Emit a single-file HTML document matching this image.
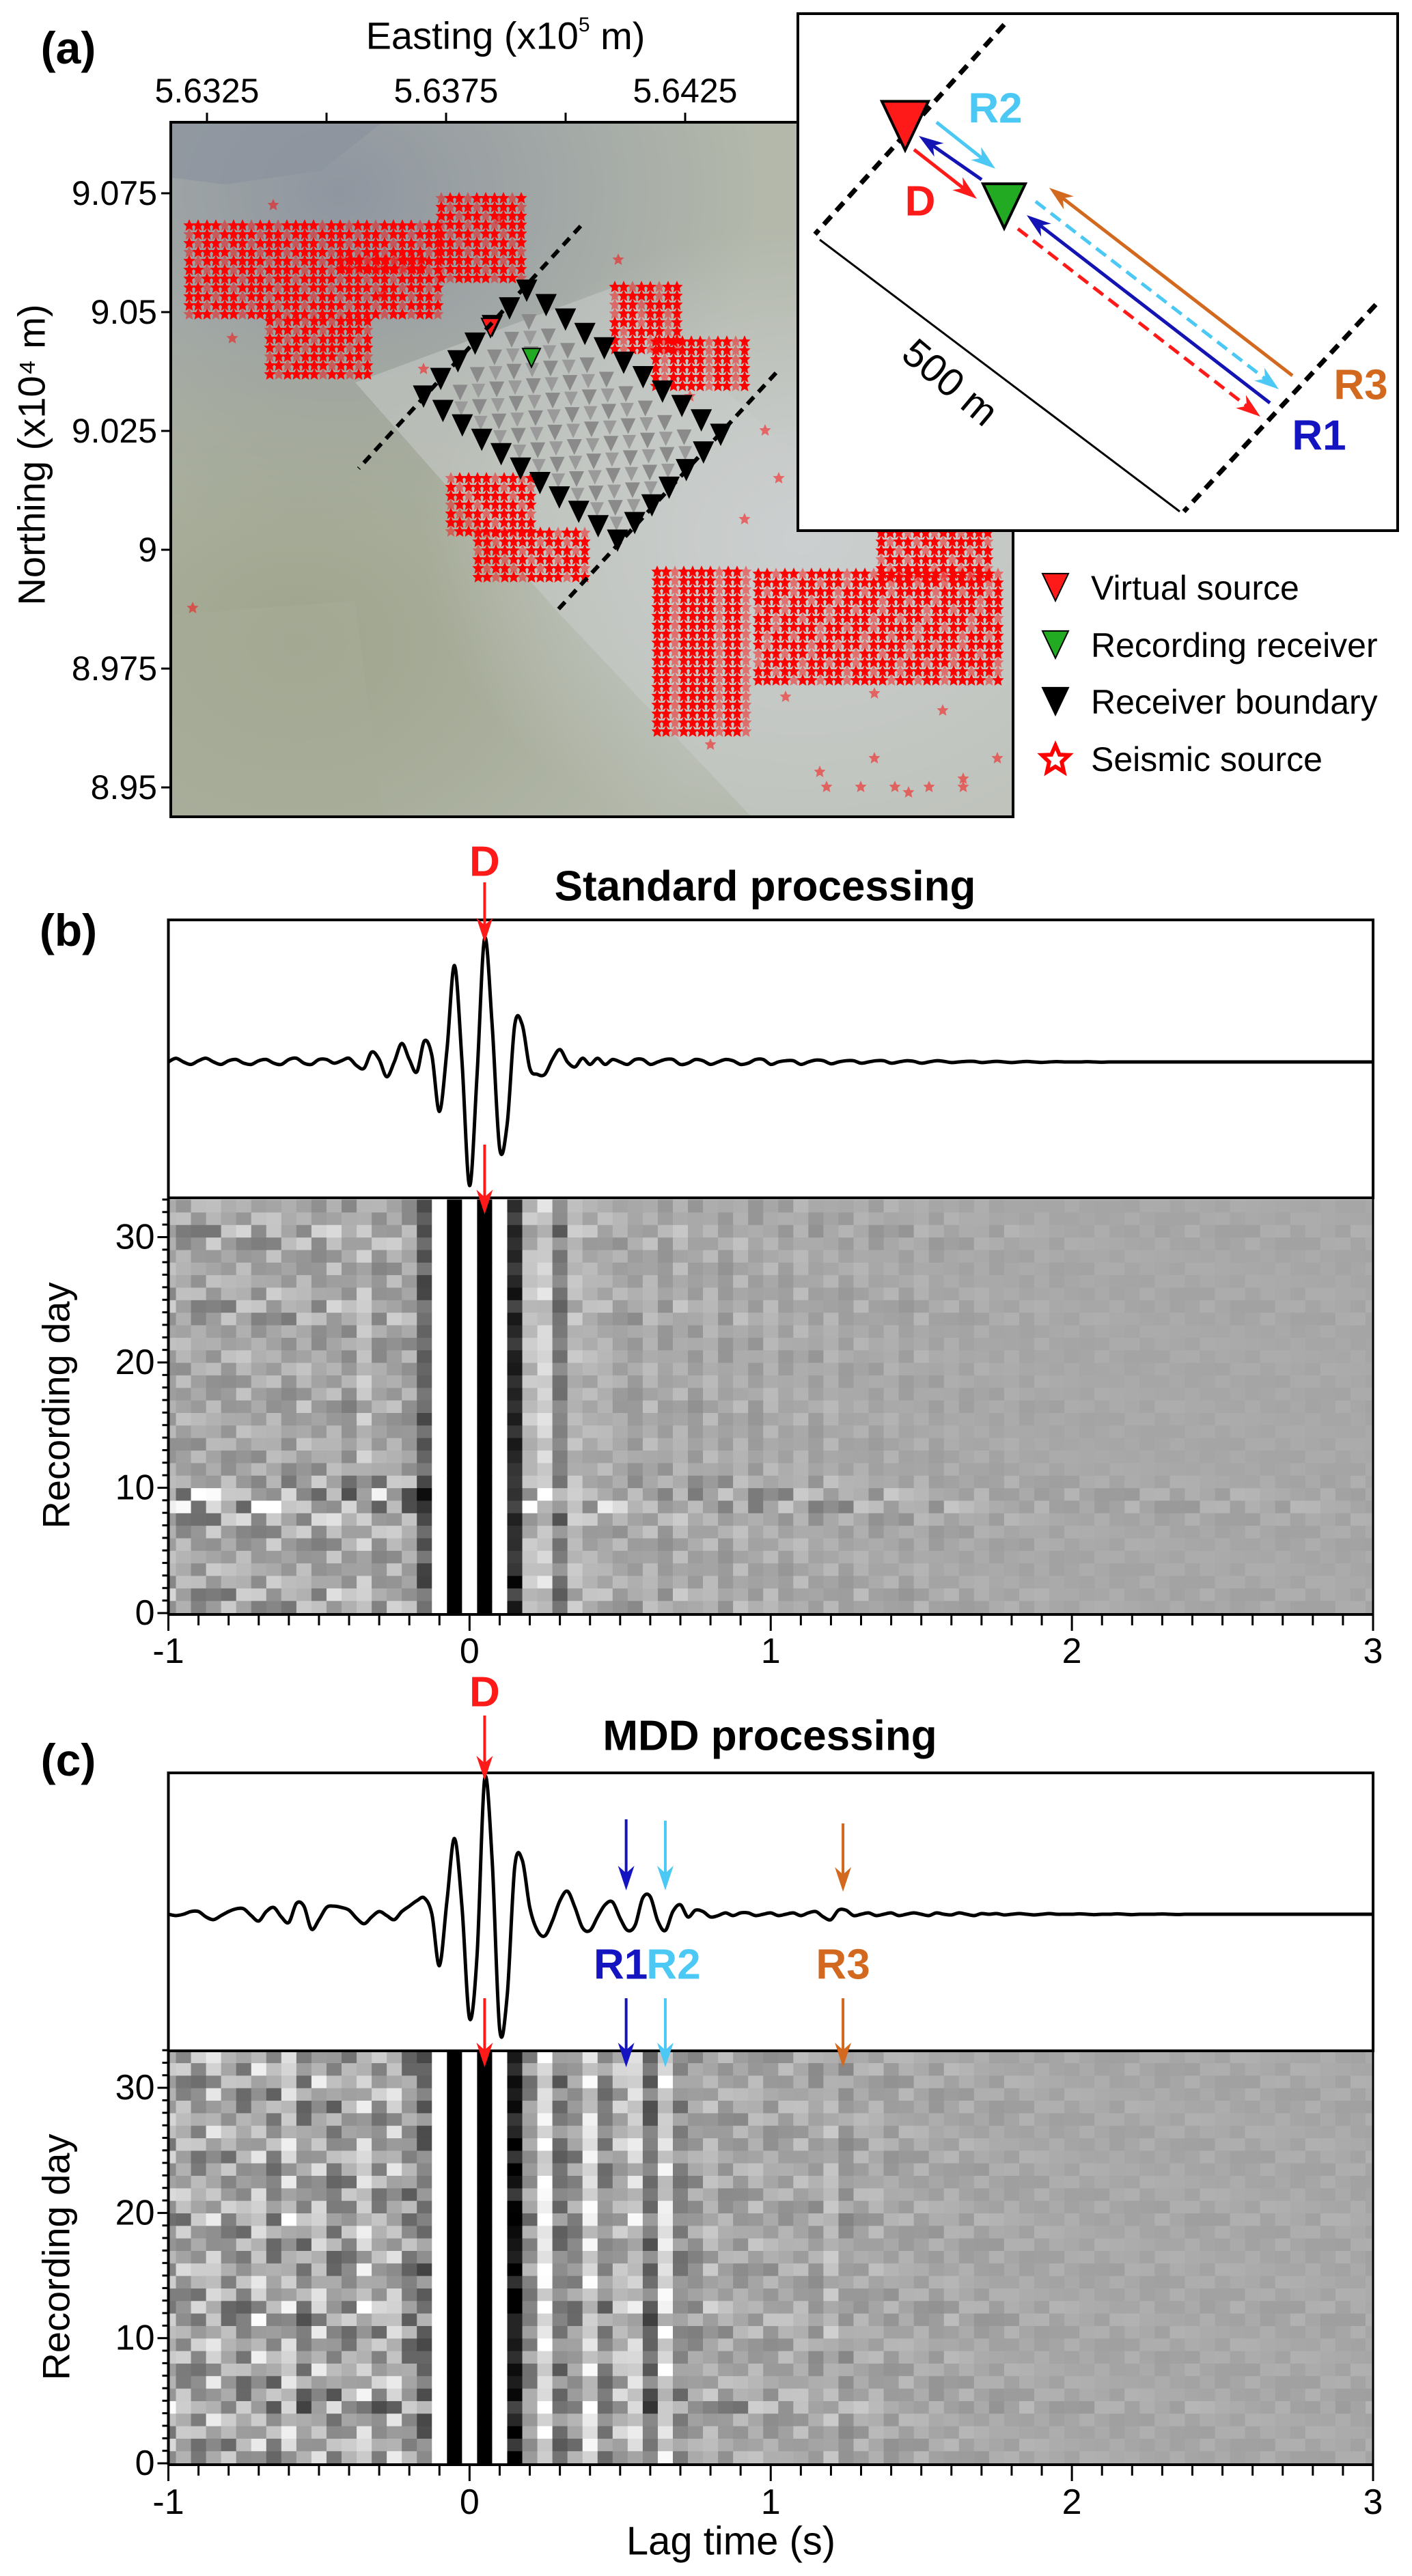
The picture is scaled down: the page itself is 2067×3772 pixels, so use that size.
<!DOCTYPE html>
<html><head><meta charset="utf-8"><style>
html,body{margin:0;padding:0;background:#fff}
svg{display:block}
text{font-family:"Liberation Sans Narrow","Liberation Sans",sans-serif}
</style></head><body>
<svg id="fig" width="2067" height="3772" viewBox="0 0 2067 3772" xmlns="http://www.w3.org/2000/svg">
<defs>
<radialGradient id="g1" cx="0.2" cy="0.1" r="0.5"><stop offset="0" stop-color="#8f96a0"/><stop offset="1" stop-color="#8f96a0" stop-opacity="0"/></radialGradient>
<radialGradient id="g2" cx="0.15" cy="0.75" r="0.5"><stop offset="0" stop-color="#9ea48c"/><stop offset="1" stop-color="#9ea48c" stop-opacity="0"/></radialGradient>
<radialGradient id="g3" cx="0.75" cy="0.6" r="0.45"><stop offset="0" stop-color="#cfd3d6"/><stop offset="1" stop-color="#cfd3d6" stop-opacity="0"/></radialGradient>
<path id="star" d="M0,-9 L2.6,-3 L8.6,-2.8 L4,1.6 L5.4,8 L0,4.6 L-5.4,8 L-4,1.6 L-8.6,-2.8 L-2.6,-3Z"/>
</defs>
</svg>
<script>
// ---------------- chart data ----------------
const tStart = -1, tStep = 0.025;
const traceStd = [0,0.03,0,-0.02,0.01,0.03,0,-0.02,0.01,0.02,-0.01,-0.02,0.01,0.02,-0.01,-0.02,0.02,0.03,-0.01,-0.02,0.02,0.02,-0.01,0.01,
0.03,-0.03,-0.05,0.08,0.02,-0.12,0,0.15,0.02,-0.08,0.17,0.05,-0.40,0.1,0.78,0.0,-1.0,-0.1,1.0,0.3,-0.7,-0.5,0.3,0.3,-0.05,-0.1,-0.1,0.02,0.1,0,-0.04,0.03,-0.02,0.03,-0.02,0.02,
0,-0.02,0.02,0.02,-0.02,0,0.02,0.02,-0.02,-0.01,0.02,0.01,-0.02,0,0.02,0.01,-0.02,-0.01,0.02,0.02,
-0.02,0,0.01,0.01,-0.02,0,0.015,0.01,-0.015,0,0.01,0.01,-0.01,0,0.01,0.01,-0.01,0,0.01,0.005,
-0.01,0,0.01,0.005,-0.005,0,0.005,0.005,-0.005,0,0.005,0,-0.005,0,0.004,0,-0.004,0,0.003,0,
0,0,0.002,0,-0.002,0,0,0,0,0,0,0,0,0,0,0,0,0,0,0,0,0,0,0,0,0,0,0,0,0,0,0,0,0,0,0,0,0,0,0,0];
const traceMdd = [0,-0.01,0,0.02,0.02,-0.02,-0.04,-0.01,0.02,0.04,0.04,-0.01,-0.05,0.02,0.05,-0.02,-0.06,0.08,0.06,-0.11,-0.04,0.05,0.06,0.05,
0.03,-0.03,-0.07,-0.02,0.02,-0.01,-0.04,0.02,0.06,0.10,0.12,0,-0.38,0.1,0.56,0.05,-0.77,-0.3,1.0,0.4,-0.85,-0.6,0.35,0.4,0.05,-0.12,-0.16,-0.05,0.1,0.17,0.05,-0.1,-0.12,-0.02,0.07,0.09,
-0.03,-0.12,-0.08,0.12,0.13,-0.05,-0.12,0.02,0.07,-0.02,0.03,0.02,-0.02,-0.01,0.01,-0.01,0.01,0.01,-0.01,0,
0.01,-0.01,0,0.01,-0.01,0.01,0.02,-0.02,-0.04,0.03,0.03,-0.01,0,0.01,-0.01,0,0.01,-0.01,0,0.01,
0,-0.01,0.01,0,-0.005,0.01,0,-0.01,0.005,0,0.005,-0.005,0,0.005,0,-0.005,0,0.005,0,0,
0,0.003,0,-0.003,0,0,0.003,0,-0.003,0,0,0,0.002,0,-0.002,0,0,0,0,0,0,0,0,0,0,0,0,0,0,0,0,0,0,0,0,0,0,0,0,0,0];
const dayGainStd = [1,1,1.1,1,1,0.9,1,1,1.2,1,1,1,0.9,1,1,1,1,1,0.9,1,1,1,1,1,1,1,1.1,1,1,1,1,0.9,1];
const dayNoiseStd = [0.10,0.12,0.08,0.08,0.07,0.09,0.10,0.14,0.24,0.22,0.12,0.06,0.06,0.06,0.05,0.06,0.08,0.06,0.06,0.06,0.07,0.06,0.05,0.09,0.10,0.08,0.06,0.07,0.06,0.10,0.12,0.07,0.06];
const dayGainMdd = [1,1,1,1,1.1,1,1,1,1,1,1,1.1,1,1,1,1,1,0.9,1,1,1,1,1,1,1,1,1,1,1,1,1,1,1];
const dayNoiseMdd = [0.12,0.13,0.12,0.12,0.22,0.14,0.13,0.12,0.12,0.12,0.13,0.16,0.15,0.11,0.11,0.12,0.12,0.12,0.11,0.15,0.12,0.12,0.11,0.11,0.12,0.12,0.11,0.12,0.12,0.12,0.13,0.12,0.12];
const noisePattern = [0.6,-0.8,0.3,0.9,-0.4,-0.9,0.7,-0.2,0.5,-0.6,1.0,-0.3,0.2,-1.0,0.8,-0.5,0.4,-0.7,0.1,0.9,-0.9,0.3,-0.1];
const xTicks = [-1,0,1,2,3];
const dayTicks = [0,10,20,30];
const eastTicks = [5.6325,5.6375,5.6425];
const northTicks = [9.075,9.05,9.025,9,8.975,8.95];
const pickTimesMdd = [0.05,0.52,0.65,1.24];
const pickNames = ['D','R1','R2','R3'];
const pickColors = ['#ff1a1a','#1414c0','#4cc8f4','#d2691e'];

// ---------------- helpers ----------------
const NS='http://www.w3.org/2000/svg';
const svg=document.getElementById('fig');
function mk(tag,attrs,parent){const e=document.createElementNS(NS,tag);for(const k in attrs)e.setAttribute(k,attrs[k]);(parent||svg).appendChild(e);return e;}
function txt(s,x,y,size,opts,parent){const e=mk('text',Object.assign({x:x,y:y,'font-size':size,'text-anchor':'middle','dominant-baseline':'central',fill:'#000'},opts||{}),parent);e.textContent=s;return e;}
function arrow(x1,y1,x2,y2,color,w,dash,parent){
  const g=mk('g',{},parent);
  const dx=x2-x1,dy=y2-y1,L=Math.hypot(dx,dy),ux=dx/L,uy=dy/L;
  const hl=36,hw=12;
  const bx=x2-ux*hl,by=y2-uy*hl;
  const l=mk('line',{x1:x1,y1:y1,x2:x2-ux*hl*0.6,y2:y2-uy*hl*0.6,stroke:color,'stroke-width':w},g);
  if(dash)l.setAttribute('stroke-dasharray',dash);
  mk('polygon',{points:`${x2},${y2} ${bx-uy*hw},${by+ux*hw} ${x2-ux*hl*0.7},${y2-uy*hl*0.7} ${bx+uy*hw},${by-ux*hw}`,fill:color},g);
  return g;
}
function tri(cx,cy,w,fill,parent,stroke){return mk('polygon',{points:`${cx-w/2},${cy-w*0.45} ${cx+w/2},${cy-w*0.45} ${cx},${cy+w*0.6}`,fill:fill,stroke:stroke||'#000','stroke-width':2},parent);}

// ---------------- panel (a) ----------------
const pa=mk('g',{});


txt('(a)',100,70,66,{'font-weight':'bold'},pa);
const ex=e=>303+(e-5.6325)/0.005*350;
const ny=n=>283+(9.075-n)/0.025*174;
const MX0=250,MX1=1483,MY0=179,MY1=1196;
const mapG=mk('g',{},pa);


mk('rect',{x:MX0,y:MY0,width:MX1-MX0,height:MY1-MY0,fill:'#b3b8ab'},mapG);
mk('rect',{x:MX0,y:MY0,width:MX1-MX0,height:MY1-MY0,fill:'url(#g1)'},mapG);
mk('rect',{x:MX0,y:MY0,width:MX1-MX0,height:MY1-MY0,fill:'url(#g2)'},mapG);
mk('rect',{x:MX0,y:MY0,width:MX1-MX0,height:MY1-MY0,fill:'url(#g3)'},mapG);
mk('polygon',{points:`${MX0},${MY0} 560,${MY0} 470,250 330,270 ${MX0},260`,fill:'#8c939e',opacity:0.7},mapG);
mk('polygon',{points:`520,560 900,420 1200,700 1483,760 1483,1196 1100,1196 820,900`,fill:'#c9ccca',opacity:0.55},mapG);
mk('polygon',{points:`${MX0},900 520,880 560,1196 ${MX0},1196`,fill:'#a7ab98',opacity:0.6},mapG);
// stars
const starG=mk('g',{fill:'#ff0000'},pa);


const regions=[[277,646,330,470],[646,765,290,410],[395,540,470,555],[660,780,700,790],[700,860,780,850],[900,1000,420,520],[960,1090,500,570],[1110,1463,840,1000],[1290,1450,780,845],[962,1094,837,1076],[500,620,380,400]];
regions.forEach((r,ri)=>{let k=0;for(let y=r[2];y<=r[3];y+=13){for(let x=r[0];x<=r[1];x+=13){k++;const o=((k*7+ri*5)%11)/11;mk('use',{href:'#star',x:x,y:y,opacity:o<0.25?0.45:1},starG);}}});
const pale=[[400,300],[730,320],[905,380],[1010,580],[1120,630],[1140,700],[1090,760],[1040,1090],[1200,1130],[1280,1110],[1330,1160],[1410,1140],[1460,1110],[560,430],[620,540],[1150,1020],[1000,1020],[1280,1015],[1380,1040],[282,890],[340,495],[1210,1152],[1260,1152],[1310,1152],[1360,1152],[1410,1152]];
pale.forEach(p=>mk('use',{href:'#star',x:p[0],y:p[1],opacity:0.5},starG));
// receiver grid
const grid=mk('g',{},pa);


const T=[771,423],R=[1055,634],L=[620,578];
const nU=10,nV=6;
for(let i=0;i<=nU;i++)for(let j=0;j<=nV;j++){
  const x=T[0]+(R[0]-T[0])*i/nU+(L[0]-T[0])*j/nV,y=T[1]+(R[1]-T[1])*i/nU+(L[1]-T[1])*j/nV;
  const edge=(i===0||i===nU||j===0||j===nV);
  if(edge)tri(x,y,28,'#000',grid);else tri(x,y,22,'#8a8a8a',grid,'none');
  if(!edge&&i<nU&&j<nV){const x2=x+((R[0]-T[0])/nU+(L[0]-T[0])/nV)/2,y2=y+((R[1]-T[1])/nU+(L[1]-T[1])/nV)/2;tri(x2,y2,20,'#9a9a9a',grid,'none');}
}
tri(718,478,26,'#ff1a1a',grid);
tri(778,522,26,'#22aa22',grid);
mk('line',{x1:850,y1:331,x2:525,y2:686,stroke:'#000','stroke-width':6,'stroke-dasharray':'14 10'},pa);
mk('line',{x1:1136,y1:546,x2:811,y2:899,stroke:'#000','stroke-width':6,'stroke-dasharray':'14 10'},pa);
mk('rect',{x:MX0,y:MY0,width:MX1-MX0,height:MY1-MY0,fill:'none',stroke:'#000','stroke-width':4},pa);
// axes ticks
for(let e=5.63;e<=5.6451;e+=0.0025){const x=ex(e);if(x<MX0-1||x>MX1)continue;mk('line',{x1:x,y1:MY0,x2:x,y2:MY0-14,stroke:'#000','stroke-width':3},pa);}
eastTicks.forEach(e=>{const t=txt(e.toFixed(4),ex(e),133,50,{},pa);});
northTicks.forEach(n=>{mk('line',{x1:MX0,y1:ny(n),x2:MX0-14,y2:ny(n),stroke:'#000','stroke-width':3},pa);const t=txt(String(n),MX0-20,ny(n),50,{'text-anchor':'end'},pa);});
const et=txt('Easting (x10',740,52,56,{},pa);
const sup=mk('tspan',{'font-size':30,dy:-16},et);sup.textContent='5';
const sp2=mk('tspan',{dy:16},et);sp2.textContent=' m)';
const nt=txt('Northing (x10⁴ m)',46,666,56,{transform:'rotate(-90 46 666)','font-family':'"Liberation Sans",sans-serif'},pa);
// inset
const ins=mk('g',{},pa);


mk('rect',{x:1168,y:20,width:878,height:757,fill:'#fff',stroke:'#000','stroke-width':4},ins);
mk('line',{x1:1470,y1:36,x2:1193,y2:343,stroke:'#000','stroke-width':7,'stroke-dasharray':'16 11'},ins);
mk('line',{x1:2014,y1:446,x2:1733,y2:749,stroke:'#000','stroke-width':7,'stroke-dasharray':'16 11'},ins);
mk('line',{x1:1200,y1:351,x2:1727,y2:749,stroke:'#000','stroke-width':3},ins);
txt('500 m',1391,560,58,{transform:'rotate(40 1391 560)','font-family':'"Liberation Sans",sans-serif'},ins);
arrow(1437,263,1345,199,'#1414b4',5,null,ins);
arrow(1371,179,1457,247,'#4cc8f4',5,null,ins);
arrow(1338,219,1430,291,'#ff1a1a',5,null,ins);
arrow(1892,550,1536,275,'#d2691e',5,null,ins);
arrow(1516,295,1872,570,'#4cc8f4',5,'18 10',ins);
arrow(1859,590,1503,315,'#1414b4',5,null,ins);
arrow(1490,335,1845,610,'#ff1a1a',5,'18 10',ins);
tri(1325,179,68,'#ff1a1a',ins).setAttribute('stroke-width',4);
tri(1470,297,62,'#22aa22',ins).setAttribute('stroke-width',4);
txt('R2',1457,159,62,{fill:'#4cc8f4','font-weight':'bold'},ins);
txt('D',1347,295,62,{fill:'#ff1a1a','font-weight':'bold'},ins);
txt('R3',1992,564,62,{fill:'#d2691e','font-weight':'bold'},ins);
txt('R1',1931,638,62,{fill:'#1414c0','font-weight':'bold'},ins);
// legend
const lg=mk('g',{},pa);


const legItems=[['Virtual source','#ff1a1a'],['Recording receiver','#22aa22'],['Receiver boundary','#000'],['Seismic source','star']];
const legY=[861,945,1028,1112];
legItems.forEach((it,i)=>{
  const g=mk('g',{},lg);
  
  
  if(it[1]==='star'){mk('use',{href:'#star',x:1545,y:legY[i],fill:'#fff',stroke:'#ff0000','stroke-width':2.5,transform:`translate(${1545*-1.3} ${legY[i]*-1.3}) scale(2.3)`},g);}
  else tri(1545,legY[i]-4,38,it[1],g);
  txt(it[0],1597,legY[i],50,{'text-anchor':'start'},g);
});

// ---------------- panels (b) & (c) ----------------
const X0=246.5,X1=2010;
const xs=t=>X0+(t+1)*(X1-X0)/4;
function panel(cfg){
  const g=mk('g',{});
  
  
  txt(cfg.letter,100,cfg.letterY,66,{'font-weight':'bold'},g);
  txt(cfg.title,cfg.titleX,cfg.titleY,62,{'font-weight':'bold'},g);
  const ys=d=>cfg.hmBottom-d*cfg.dayPx;
  // heatmap
  const hm=mk('g',{},g);
  
  
  const nCols=81,colW=(X1-X0)/80;
  for(let d=0;d<33;d++){
    for(let j=0;j<nCols;j++){
      const idx=2*j,t=tStart+idx*tStep;
      let env;
      if(t<-0.1)env=1;else if(t<cfg.noiseEnd)env=0.75;else if(t<2)env=Math.max(0.15,0.6-0.45*(t-cfg.noiseEnd)/(2-cfg.noiseEnd));else env=0.15;
      const v=cfg.gain[d]*cfg.trace[idx]+cfg.noise[d]*env*noisePattern[(j*7+d*5)%noisePattern.length];
      let c=Math.round(168-v*420);c=Math.max(0,Math.min(255,c));
      const x=Math.max(X0,xs(t)-colW/2),x2=Math.min(X1,xs(t)+colW/2);
      const r=mk('rect',{x:x,y:ys(d+1),width:x2-x+0.6,height:cfg.dayPx+0.6,fill:`rgb(${c},${c},${c})`},hm);
      
    }
  }
  // trace box
  mk('rect',{x:X0,y:cfg.boxTop,width:X1-X0,height:cfg.boxBottom-cfg.boxTop,fill:'none',stroke:'#000','stroke-width':4},g);
  mk('line',{x1:X0,y1:cfg.hmBottom+2,x2:X1,y2:cfg.hmBottom+2,stroke:'#000','stroke-width':4},g);
  mk('line',{x1:X0,y1:cfg.boxBottom,x2:X0,y2:cfg.hmBottom+2,stroke:'#000','stroke-width':4},g);
  mk('line',{x1:X1,y1:cfg.boxBottom,x2:X1,y2:cfg.hmBottom+2,stroke:'#000','stroke-width':3},g);
  // trace path (Catmull-Rom)
  const pts=cfg.trace.map((v,i)=>[xs(tStart+i*tStep),cfg.base-v*cfg.amp]);
  let d='M'+pts[0][0]+','+pts[0][1];
  for(let i=0;i<pts.length-1;i++){const p0=pts[Math.max(0,i-1)],p1=pts[i],p2=pts[i+1],p3=pts[Math.min(pts.length-1,i+2)];
    d+=` C${p1[0]+(p2[0]-p0[0])/6},${p1[1]+(p2[1]-p0[1])/6} ${p2[0]-(p3[0]-p1[0])/6},${p2[1]-(p3[1]-p1[1])/6} ${p2[0]},${p2[1]}`;}
  const tp=mk('path',{d:d,fill:'none',stroke:'#000','stroke-width':5,'stroke-linejoin':'round'},g);
  
  // x axis
  for(let k=0;k<=40;k++){const t=-1+k*0.1;const major=k%10===0;mk('line',{x1:xs(t),y1:cfg.hmBottom+2,x2:xs(t),y2:cfg.hmBottom+(major?26:18),stroke:'#000','stroke-width':3},g);}
  xTicks.forEach(t=>{const l=txt(String(t),xs(t),cfg.tickY,52,{},g);});
  // y axis
  for(let k=0;k<=33;k++){const major=k%10===0;mk('line',{x1:X0,y1:ys(k),x2:X0-(major?16:9),y2:ys(k),stroke:'#000','stroke-width':3},g);}
  dayTicks.forEach(dv=>{const l=txt(String(dv),X0-20,ys(dv),52,{'text-anchor':'end'},g);});
  const yt=txt('Recording day',82,(cfg.boxBottom+cfg.hmBottom)/2,56,{transform:`rotate(-90 82 ${(cfg.boxBottom+cfg.hmBottom)/2})`,'font-family':'"Liberation Sans",sans-serif'},g);
  
  // picks
  cfg.picks.forEach((pk,i)=>{
    const x=xs(pk);
    const col=pickColors[i];
    const a1=arrow(x,cfg.upArrow[i][0],x,cfg.upArrow[i][1],col,4,null,g);
    
    const a2=arrow(x,cfg.loArrow[0],x,cfg.loArrow[1],col,4,null,g);
    
    if(cfg.labels[i]){const l=txt(pickNames[i],x+(i===1?-8:(i===2?12:0)),cfg.labels[i],62,{fill:col,'font-weight':'bold'},g);}
  });
  return g;
}
panel({name:'panel-b',letter:'(b)',letterY:1362,title:'Standard processing',titleX:1120,titleY:1298,
  trace:traceStd,gain:dayGainStd,noise:dayNoiseStd,noiseEnd:0.35,boxTop:1347,boxBottom:1754,base:1555,amp:181,
  hmBottom:2362,dayPx:18.35,tickY:2418,picks:[pickTimesMdd[0]],upArrow:[[1292,1380]],loArrow:[1676,1778],labels:[1262]});
panel({name:'panel-c',letter:'(c)',letterY:2577,title:'MDD processing',titleX:1127,titleY:2542,
  trace:traceMdd,gain:dayGainMdd,noise:dayNoiseMdd,noiseEnd:0.7,boxTop:2596,boxBottom:3003,base:2803,amp:198,
  hmBottom:3607,dayPx:18.33,tickY:3664,picks:pickTimesMdd,upArrow:[[2512,2607],[2664,2768],[2666,2768],[2670,2770]],loArrow:[2926,3027],labels:[2478,2877,2877,2877]});
txt('Lag time (s)',1070,3721,58,{},svg);
</script>
</body></html>
